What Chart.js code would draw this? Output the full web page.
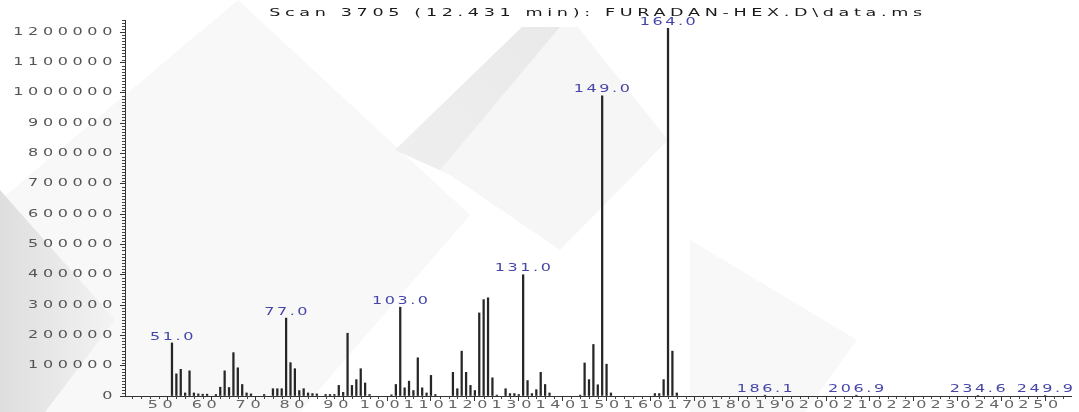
<!DOCTYPE html>
<html>
<head>
<meta charset="utf-8">
<script src="https://cdn.jsdelivr.net/npm/chart.js@4.4.1/dist/chart.umd.min.js"></script>
<style>
  html, body { margin: 0; padding: 0; background: #ffffff; }
  #wrap { width: 1079px; height: 412px; position: relative; }
</style>
</head>
<body>
<div id="wrap"><canvas id="spectrum" width="1079" height="412"></canvas></div>
<script>
// Mass spectrum of scan 3705
const titleText = 'Scan 3705 (12.431 min): FURADAN-HEX.D\\data.ms';

// m/z of each ion
const mz = [
  51, 52, 53, 54, 55, 56, 57, 58, 59, 61, 62, 63, 64, 65, 66, 67, 68, 69,
  72, 74, 75, 76, 77, 78, 79, 80, 81, 82, 83, 84, 86, 87, 88, 89, 90,
  91, 92, 93, 94, 95, 96, 101, 102, 103, 104, 105, 106, 107, 108, 109, 110, 111,
  115, 116, 117, 118, 119, 120, 121, 122, 123, 124, 125, 127, 128, 129, 130,
  131, 132, 133, 134, 135, 136, 137, 144, 145, 146, 147, 148, 149, 150, 151,
  161, 162, 163, 164, 165, 166, 186.1, 206.9, 234.6, 249.9
];

// abundance of each ion
const abundance = [
  175000, 73000, 88000, 10000, 83000, 10000, 7000, 6000, 6000, 5000, 29000, 83000, 28000, 143000, 93000, 38000, 10000, 7000,
  5000, 24000, 24000, 24000, 257000, 110000, 90000, 18000, 24000, 10000, 8000, 7000, 5000, 5000, 5000, 35000, 12000,
  207000, 35000, 54000, 90000, 43000, 5000, 4000, 38000, 293000, 27000, 49000, 18000, 126000, 27000, 10000, 68000, 5000,
  78000, 24000, 148000, 78000, 35000, 18000, 274000, 318000, 324000, 60000, 3000, 24000, 8000, 8000, 5000,
  400000, 51000, 8000, 21000, 78000, 38000, 10000, 3000, 109000, 54000, 170000, 37000, 990000, 105000, 10000,
  8000, 8000, 54000, 1213000, 148000, 10000, 2500, 2500, 2000, 2000
];

// ions annotated with their m/z
const labelledPeaks = [51.0, 77.0, 103.0, 131.0, 149.0, 164.0, 186.1, 206.9, 234.6, 249.9];

const xTicks = [50, 60, 70, 80, 90, 100, 110, 120, 130, 140, 150, 160, 170, 180, 190, 200, 210, 220, 230, 240, 250];
const yTicks = [0, 100000, 200000, 300000, 400000, 500000, 600000, 700000, 800000, 900000, 1000000, 1100000, 1200000];

// Wide, spaced-out lettering of the instrument printout
const STRETCH = 1.6;
function widenGlyphs(ctx) {
  const fill = ctx.fillText;
  ctx.fillText = function (text, x, y, maxWidth) {
    this.save();
    this.translate(x, y);
    this.scale(STRETCH, 1);
    if (maxWidth === undefined) fill.call(this, text, 0, 0);
    else fill.call(this, text, 0, 0, maxWidth / STRETCH);
    this.restore();
  };
}

const canvas = document.getElementById('spectrum');
const context = canvas.getContext('2d');
widenGlyphs(context);

// faint grey diagonal panels behind the plot
const backdrop = {
  id: 'backdrop',
  beforeDraw(chart) {
    const ctx = chart.ctx;
    ctx.save();
    const poly = (pts, fill) => {
      ctx.beginPath();
      pts.forEach((p, i) => (i ? ctx.lineTo(p[0], p[1]) : ctx.moveTo(p[0], p[1])));
      ctx.closePath();
      ctx.fillStyle = fill;
      ctx.fill();
    };
    poly([[238, 0], [470, 215], [300, 412], [0, 412], [0, 200]], '#f8f8f8');
    let g = ctx.createLinearGradient(0, 0, 120, 0);
    g.addColorStop(0, '#dedede');
    g.addColorStop(1, '#f4f4f4');
    poly([[0, 190], [115, 320], [45, 412], [0, 412]], g);
    poly([[395, 150], [522, 27], [578, 27], [668, 140], [560, 250], [450, 175]], '#f6f6f6');
    g = ctx.createLinearGradient(400, 150, 560, 30);
    g.addColorStop(0, '#eeeeee');
    g.addColorStop(1, '#e9e9e9');
    poly([[395, 150], [522, 27], [560, 27], [440, 170]], g);
    poly([[690, 240], [857, 340], [805, 412], [690, 412]], '#f8f8f8');
    ctx.restore();
    ctx.letterSpacing = '2.9px';
  }
};

// short ruler marks between the labelled ticks
const minorTicks = {
  id: 'minorTicks',
  afterDraw(chart) {
    const ctx = chart.ctx;
    const xs = chart.scales.x, ys = chart.scales.y;
    const area = chart.chartArea;
    ctx.save();
    ctx.strokeStyle = '#444';
    ctx.lineWidth = 1;
    ctx.beginPath();
    for (let v = 10000; v <= ys.max; v += 10000) {
      if (v % 100000 === 0) continue;
      const py = Math.round(ys.getPixelForValue(v)) + 0.5;
      ctx.moveTo(area.left - 3, py);
      ctx.lineTo(area.left, py);
    }
    for (let m = 42; m <= xs.max; m += 2) {
      if (m % 10 === 0) continue;
      const px = Math.round(xs.getPixelForValue(m)) + 0.5;
      ctx.moveTo(px, area.bottom);
      ctx.lineTo(px, area.bottom + 3);
    }
    ctx.stroke();
    ctx.restore();
  }
};

// m/z annotations above the marked ions
const peakLabels = {
  id: 'peakLabels',
  afterDatasetsDraw(chart) {
    const ctx = chart.ctx;
    const xs = chart.scales.x, ys = chart.scales.y;
    ctx.save();
    ctx.font = '10px "DejaVu Sans"';
    ctx.fillStyle = '#4646a8';
    ctx.textAlign = 'center';
    ctx.textBaseline = 'bottom';
    ctx.letterSpacing = '1.6px';
    labelledPeaks.forEach(m => {
      const i = mz.indexOf(m);
      if (i < 0) return;
      const px = xs.getPixelForValue(m) + 1;
      const py = ys.getPixelForValue(abundance[i]) - 1;
      ctx.fillText(m.toFixed(1), px, py);
    });
    ctx.restore();
  }
};

new Chart(context, {
  type: 'bar',
  data: {
    datasets: [{
      data: mz.map((m, i) => ({ x: m, y: abundance[i] })),
      backgroundColor: '#262626',
      borderWidth: 0,
      barThickness: 1.6,
      grouped: false
    }]
  },
  options: {
    responsive: false,
    animation: false,
    events: [],
    layout: { padding: { left: 0, right: 8, top: 0, bottom: 0 } },
    plugins: {
      legend: { display: false },
      tooltip: { enabled: false },
      title: {
        display: true,
        text: titleText,
        fullSize: false,
        color: '#1a1a1a',
        font: { family: '"DejaVu Sans"', size: 11, weight: 'normal', lineHeight: 1.1 },
        padding: { top: 7, bottom: 1 }
      }
    },
    scales: {
      x: {
        type: 'linear',
        offset: false,
        min: 40.3,
        max: 255.8,
        afterBuildTicks: s => { s.ticks = xTicks.map(v => ({ value: v })); },
        afterFit: s => { s.height = 16; },
        border: { display: true, color: '#333', width: 1 },
        grid: { display: true, offset: false, drawOnChartArea: false, drawTicks: true, tickLength: 5, tickColor: '#333', tickWidth: 1 },
        ticks: {
          autoSkip: false,
          maxRotation: 0,
          minRotation: 0,
          padding: -1,
          labelOffset: -5,
          color: '#666',
          font: { family: '"DejaVu Sans"', size: 10, lineHeight: 1 },
          callback: v => String(v)
        }
      },
      y: {
        min: 0,
        max: 1240000,
        afterBuildTicks: s => { s.ticks = yTicks.map(v => ({ value: v })); },
        afterFit: s => { s.width = 125; },
        border: { display: true, color: '#333', width: 1 },
        grid: { display: true, drawOnChartArea: false, drawTicks: true, tickLength: 5, tickColor: '#333', tickWidth: 1 },
        ticks: {
          padding: 3,
          color: '#555',
          font: { family: '"DejaVu Sans"', size: 10, lineHeight: 1 },
          callback: v => String(v)
        }
      }
    }
  },
  plugins: [backdrop, minorTicks, peakLabels]
});
</script>
</body>
</html>
